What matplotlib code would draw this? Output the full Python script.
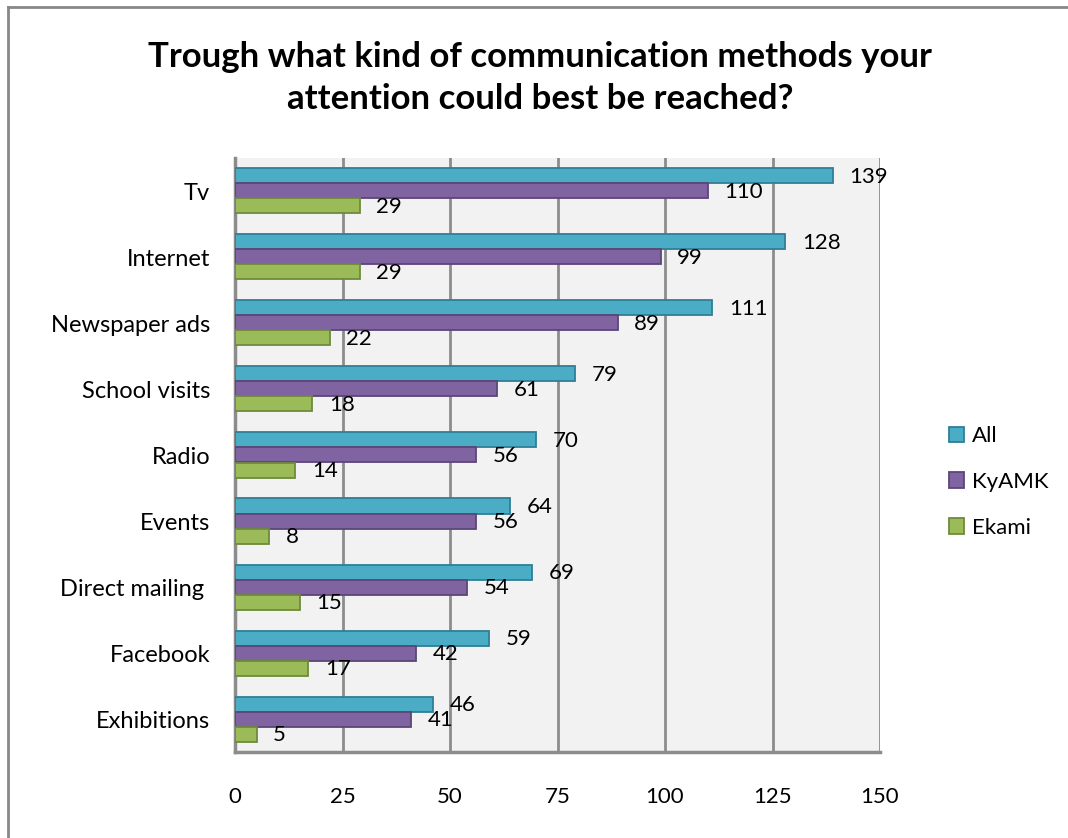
import numpy as np
import matplotlib
matplotlib.use('Agg')
import matplotlib.pyplot as plt
from matplotlib.lines import Line2D

plt.rcParams['font.family'] = ['Lato', 'DejaVu Sans']

# data
categories = ['Tv', 'Internet', 'Newspaper ads', 'School visits', 'Radio',
              'Events', 'Direct mailing ', 'Facebook', 'Exhibitions']
all_vals = [139, 128, 111, 79, 70, 64, 69, 59, 46]
kyamk_vals = [110, 99, 89, 61, 56, 56, 54, 42, 41]
ekami_vals = [29, 29, 22, 18, 14, 8, 15, 17, 5]
series_names = ['All', 'KyAMK', 'Ekami']
x_ticks = [0, 25, 50, 75, 100, 125, 150]

face = ['#4BACC6', '#8064A2', '#9BBB59']
edge = ['#2E7F96', '#5C4677', '#6F8A3C']
grid_col = '#8C8C8C'

W, H = 1068, 838
fig = plt.figure(figsize=(W / 100, H / 100), dpi=100)
ax = fig.add_axes([235 / W, 1 - 752 / H, (880 - 235) / W, (752 - 158) / H])
ax.set_facecolor('#F2F2F2')

y = np.arange(len(categories))
h = 15 / 66
series = [all_vals, kyamk_vals, ekami_vals]
for k, vals in enumerate(series):
    pos = y + (k - 1) * h
    ax.barh(pos, vals, height=h, color=face[k], edgecolor=edge[k],
            linewidth=1.3, label=series_names[k], zorder=3)
    for p, v in zip(pos, vals):
        ax.annotate(str(v), (v, p), xytext=(12, -1), textcoords='offset points',
                    ha='left', va='center', fontsize=16, color='black', zorder=4)

ax.set_xlim(0, 150)
ax.set_ylim(len(categories) - 0.5, -0.5)
ax.set_xticks(x_ticks)
ax.set_yticks(y)
ax.set_yticklabels(categories)
ax.tick_params(axis='both', length=0)
ax.tick_params(axis='x', pad=25, labelsize=16)
ax.tick_params(axis='y', pad=18, labelsize=17)
ax.xaxis.grid(True, color=grid_col, linewidth=2, zorder=1)
ax.set_axisbelow(True)
for s in ['top', 'right']:
    ax.spines[s].set_visible(False)
for s in ['left', 'bottom']:
    ax.spines[s].set_color(grid_col)
    ax.spines[s].set_linewidth(2.5)

fig.text(540 / W, 1 - 78 / H,
         'Trough what kind of communication methods your\nattention could best be reached?',
         ha='center', va='center', fontsize=25, fontweight='bold', linespacing=1.42)

leg = fig.legend(loc='center left', bbox_to_anchor=(940 / W, 1 - 482 / H),
                 frameon=False, fontsize=16, handlelength=0.7, handleheight=0.7,
                 handletextpad=0.35, labelspacing=1.15, borderaxespad=0)

# outer chart border (top and left visible)
fig.add_artist(Line2D([8 / W, 8 / W], [0, 1 - 7 / H], color='#888888', linewidth=2,
                      transform=fig.transFigure))
fig.add_artist(Line2D([8 / W, 1], [1 - 7 / H, 1 - 7 / H], color='#888888', linewidth=2,
                      transform=fig.transFigure))

fig.savefig('out.png', dpi=100, facecolor='white')
